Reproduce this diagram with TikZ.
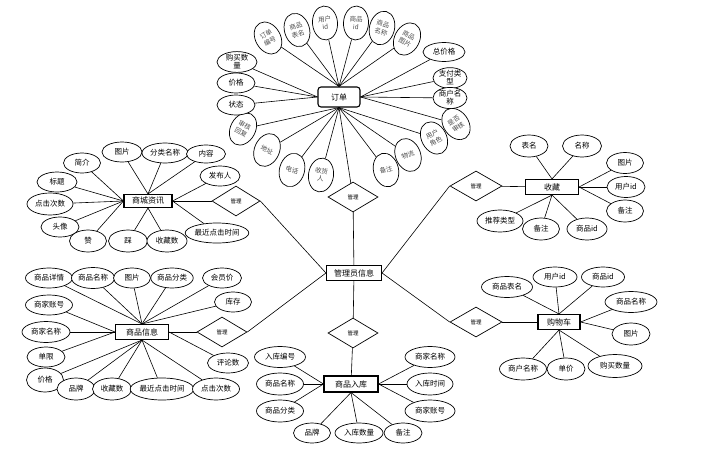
\documentclass[tikz,border=0pt]{standalone}
\usepackage{fontspec}
\newfontfamily\cjk{Noto Sans CJK SC}
\usetikzlibrary{shapes.geometric, positioning}

\tikzset{
  attr/.style={ellipse, draw, fill=white, line width=0.7pt, inner sep=0pt, minimum width=38pt, minimum height=20pt, align=center, font=\cjk\fontsize{7.5}{8}\selectfont},
  tall/.style={ellipse, draw, fill=white, line width=0.7pt, inner sep=0pt, minimum width=25pt, minimum height=34pt, align=center, text=black!70, font=\cjk\fontsize{6.5}{8}\selectfont},
  entity/.style={rectangle, draw, fill=white, line width=1.1pt, inner sep=0pt, minimum width=53pt, minimum height=15pt, font=\cjk\fontsize{8}{9}\selectfont},
  rel/.style={diamond, draw, fill=white, line width=0.7pt, inner sep=0pt, minimum width=50pt, minimum height=30pt, font=\cjk\fontsize{5.5}{6}\selectfont}
}

\begin{document}
\begin{tikzpicture}[x=1pt, y=-1pt, line width=0.6pt]
   \useasboundingbox (0,0) rectangle (706,452);
   \node[entity, minimum width=55pt] (admin) at (354,273) {管理员信息};
   \node[entity, minimum width=42pt, minimum height=20pt, rounded corners=3pt] (order) at (339,97) {订单};
   \node[entity, minimum width=48pt, minimum height=13pt] (news) at (148,201) {商城资讯};
   \node[entity] (goods) at (142,332) {商品信息};
   \node[entity] (fav) at (552,187) {收藏};
   \node[entity, minimum width=42pt] (cart) at (559,322) {购物车};
   \node[entity, minimum width=54pt, minimum height=16pt] (stock) at (351,384) {商品入库};

   \node[rel] (r_1) at (353,197) {管理};
   \node[rel, minimum width=48pt] (r_2) at (236,201) {管理};
   \node[rel] (r_3) at (222,332) {管理};
   \node[rel, minimum width=52pt] (r_4) at (476,186) {管理};
   \node[rel, minimum width=52pt] (r_5) at (476,322) {管理};
   \node[rel] (r_6) at (353,333) {管理};

   \node[tall, rotate=30] (o_1) at (268,38) {订单\\编号};
   \node[tall, rotate=17] (o_2) at (297,30) {商品\\表名};
   \node[tall, rotate=5] (o_3) at (325,23) {用户\\id};
   \node[tall, rotate=-3] (o_4) at (356,23) {商品\\id};
   \node[tall, rotate=-15] (o_5) at (382,28) {商品\\名称};
   \node[tall, rotate=-28] (o_6) at (407,39) {商品\\图片};
   \node[attr, minimum width=42pt, minimum height=19pt] (o_7) at (444,52) {总价格};
   \node[attr, minimum width=34pt] (o_8) at (450,78) {支付类\\型};
   \node[attr, minimum width=34pt] (o_9) at (450,98) {商户名\\称};
   \node[tall, rotate=35] (o_10) at (456,124) {是否\\审核};
   \node[tall, rotate=28] (o_11) at (434,138) {用户\\角色};
   \node[tall, rotate=22] (o_12) at (408,155) {物流};
   \node[tall, rotate=14] (o_13) at (386,170) {备注};
   \node[tall, rotate=-8] (o_14) at (321,175) {收货\\人};
   \node[tall, rotate=-16] (o_15) at (292,170) {电话};
   \node[tall, rotate=-24] (o_16) at (267,150) {地址};
   \node[tall, rotate=-28] (o_17) at (243,129) {审核\\回复};
   \node[attr] (o_18) at (236,105) {状态};
   \node[attr] (o_19) at (236,83) {价格};
   \node[attr, minimum width=40pt] (o_20) at (237,62) {购买数\\量};

   \node[attr, minimum width=37pt] (n_1) at (82,163) {简介};
   \node[attr, minimum width=40pt] (n_2) at (122,152) {图片};
   \node[attr, minimum width=46pt] (n_3) at (165,153) {分类名称};
   \node[attr, minimum width=39pt, minimum height=18pt] (n_4) at (206,154) {内容};
   \node[attr, minimum width=40pt] (n_5) at (220,176) {发布人};
   \node[attr, minimum width=40pt] (n_6) at (57,182) {标题};
   \node[attr, minimum width=46pt, minimum height=22pt] (n_7) at (50,204) {点击次数};
   \node[attr] (n_8) at (60,227) {头像};
   \node[attr, minimum width=37pt, minimum height=22pt] (n_9) at (88,241) {赞};
   \node[attr, minimum width=39pt, minimum height=22pt] (n_10) at (128,241) {踩};
   \node[attr, minimum width=40pt, minimum height=22pt] (n_11) at (167,241) {收藏数};
   \node[attr, minimum width=63pt] (n_12) at (217,233) {最近点击时间};

   \node[attr, minimum width=47pt] (g_1) at (49,278) {商品详情};
   \node[attr, minimum width=43pt, minimum height=21pt] (g_2) at (93,278) {商品名称};
   \node[attr, minimum width=37pt] (g_3) at (132,278) {图片};
   \node[attr, minimum width=40pt] (g_4) at (172,278) {商品分类};
   \node[attr, minimum width=39pt] (g_5) at (222,278) {会员价};
   \node[attr, minimum width=37pt] (g_6) at (233,302) {库存};
   \node[attr, minimum width=47pt] (g_7) at (49,305) {商家账号};
   \node[attr, minimum width=48pt, minimum height=21pt] (g_8) at (46,332) {商家名称};
   \node[attr] (g_9) at (46,357) {单限};
   \node[attr, minimum width=37pt, minimum height=24pt] (g_10) at (45,380) {价格};
   \node[attr, minimum height=22pt] (g_11) at (76,389) {品牌};
   \node[attr, minimum width=39pt, minimum height=22pt] (g_12) at (112,389) {收藏数};
   \node[attr, minimum width=63pt, minimum height=22pt] (g_13) at (162,389) {最近点击时间};
   \node[attr, minimum width=47pt, minimum height=22pt] (g_14) at (216,389) {点击次数};
   \node[attr, minimum width=41pt] (g_15) at (228,363) {评论数};

   \node[attr, minimum height=22pt] (f_1) at (529,146) {表名};
   \node[attr, minimum width=39pt, minimum height=22pt] (f_2) at (582,146) {名称};
   \node[attr, minimum width=37pt, minimum height=21pt] (f_3) at (625,163) {图片};
   \node[attr, minimum height=21pt] (f_4) at (626,187) {用户id};
   \node[attr, minimum width=37pt, minimum height=22pt] (f_5) at (625,211) {备注};
   \node[attr, minimum width=46pt, minimum height=22pt] (f_6) at (500,221) {推荐类型};
   \node[attr, minimum width=37pt, minimum height=22pt] (f_7) at (541,229) {备注};
   \node[attr, minimum width=40pt, minimum height=22pt] (f_8) at (587,229) {商品id};

   \node[attr, minimum width=51pt, minimum height=21pt] (c_1) at (507,287) {商品表名};
   \node[attr, minimum width=44pt] (c_2) at (555,277) {用户id};
   \node[attr, minimum width=43pt] (c_3) at (603,277) {商品id};
   \node[attr, minimum width=52pt, minimum height=21pt] (c_4) at (631,302) {商品名称};
   \node[attr, minimum height=22pt] (c_5) at (631,334) {图片};
   \node[attr, minimum width=54pt, minimum height=23pt] (c_6) at (615,366) {购买数量};
   \node[attr, minimum height=22pt] (c_7) at (566,369) {单价};
   \node[attr, minimum width=47pt, minimum height=22pt] (c_8) at (523,369) {商户名称};

   \node[attr, minimum width=51pt, minimum height=21pt] (s_1) at (280,357) {入库编号};
   \node[attr, minimum width=47pt, minimum height=22pt] (s_2) at (280,384) {商品名称};
   \node[attr, minimum width=47pt, minimum height=22pt] (s_3) at (280,411) {商品分类};
   \node[attr, minimum width=37pt] (s_4) at (312,433) {品牌};
   \node[attr, minimum width=48pt] (s_5) at (359,433) {入库数量};
   \node[attr] (s_6) at (403,433) {备注};
   \node[attr, minimum width=50pt, minimum height=21pt] (s_7) at (430,357) {商家名称};
   \node[attr, minimum width=46pt, minimum height=22pt] (s_8) at (430,384) {入库时间};
   \node[attr, minimum width=50pt, minimum height=22pt] (s_9) at (430,411) {商家账号};

    \path[draw]
    (order.north) edge (o_1) edge (o_2) edge (o_3) edge (o_4) edge (o_5) edge (o_6)
    (order.east) edge (o_7) edge (o_8) edge (o_9) edge (o_10)
    (order.south) edge (o_11) edge (o_12) edge (o_13) edge (o_14) edge (o_15) edge (o_16) edge (o_17)
                  edge (r_1)
    (order.west) edge (o_18) edge (o_19) edge (o_20)
    (news.west) edge (n_1) edge (n_6) edge (n_7) edge (n_8) edge (n_9)
    (news.north) edge (n_2) edge (n_3) edge (n_4)
    (news.east) edge (n_5) edge (n_12)
    (news.south) edge (n_10) edge (n_11)
    (news) edge (r_2)
    (goods.north) edge (g_1) edge (g_2) edge (g_3) edge (g_4) edge (g_5) edge (g_6)
    (goods.west) edge (g_7) edge (g_8) edge (g_9)
    (goods.south) edge (g_10) edge (g_11) edge (g_12) edge (g_13) edge (g_14)
    (goods.east) edge (g_15)
    (goods) edge (r_3)
    (fav.north) edge (f_1) edge (f_2)
    (fav.east) edge (f_3) edge (f_4) edge (f_5)
    (fav.south) edge (f_6) edge (f_7) edge (f_8)
    (r_4) edge (fav)
    (cart.north) edge (c_1) edge (c_2) edge (c_3)
    (cart.east) edge (c_4) edge (c_5)
    (cart.south) edge (c_6) edge (c_7) edge (c_8)
    (r_5) edge (cart)
    (stock.west) edge (s_1) edge (s_2) edge (s_3)
    (stock.south) edge (s_4) edge (s_5) edge (s_6)
    (stock.east) edge (s_7) edge (s_8) edge (s_9)
    (r_6) edge (stock)
    (r_1) edge (admin)
    (r_2.east) edge (admin.west)
    (r_3.east) edge (admin.west)
    (r_4.west) edge (admin.east)
    (r_5.west) edge (admin.east)
    (admin) edge (r_6);
\end{tikzpicture}
\end{document}
